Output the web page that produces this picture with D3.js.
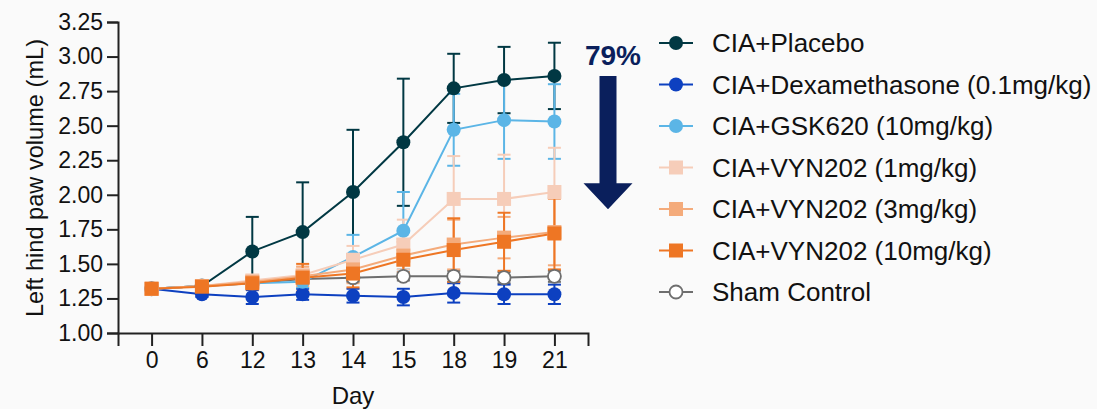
<!DOCTYPE html>
<html>
<head>
<meta charset="utf-8">
<script src="https://cdnjs.cloudflare.com/ajax/libs/d3/7.8.5/d3.min.js"></script>
<style>
  body { margin: 0; background: #fafafa; }
  svg { display: block; font-family: "Liberation Sans", Arial, sans-serif; }
</style>
</head>
<body>
<div id="chart"></div>
<script>
// Data
var days = ['0', '6', '12', '13', '14', '15', '18', '19', '21'];
var y_ticks = [1.00, 1.25, 1.50, 1.75, 2.00, 2.25, 2.50, 2.75, 3.00, 3.25];

var placebo = [1.32, 1.34, 1.59, 1.73, 2.02, 2.38, 2.77, 2.83, 2.86];
var placebo_err = [0.03, 0.03, 0.25, 0.36, 0.45, 0.46, 0.25, 0.24, 0.24];
var dexa = [1.32, 1.28, 1.26, 1.28, 1.27, 1.26, 1.29, 1.28, 1.28];
var dexa_err = [0.03, 0.02, 0.05, 0.04, 0.05, 0.06, 0.07, 0.07, 0.07];
var gsk = [1.32, 1.34, 1.36, 1.37, 1.55, 1.74, 2.47, 2.54, 2.53];
var gsk_err = [0.03, 0.02, 0.03, 0.04, 0.16, 0.28, 0.26, 0.28, 0.27];
var vyn1 = [1.32, 1.34, 1.38, 1.42, 1.53, 1.64, 1.97, 1.97, 2.02];
var vyn1_err = [0.03, 0.03, 0.04, 0.06, 0.10, 0.18, 0.31, 0.32, 0.32];
var vyn3 = [1.32, 1.34, 1.37, 1.41, 1.46, 1.56, 1.64, 1.69, 1.73];
var vyn3_err = [0.03, 0.03, 0.04, 0.07, 0.10, 0.12, 0.18, 0.15, 0.24];
var vyn10 = [1.32, 1.335, 1.36, 1.40, 1.43, 1.53, 1.60, 1.66, 1.72];
var vyn10_err = [0.03, 0.03, 0.04, 0.10, 0.10, 0.13, 0.23, 0.21, 0.26];
var sham = [1.32, 1.34, 1.36, 1.39, 1.40, 1.41, 1.41, 1.40, 1.41];
var sham_err = [0.03, 0.02, 0.03, 0.03, 0.03, 0.03, 0.04, 0.04, 0.04];

var reduction_label = '79%';

// series table (drawing order: sham at the back)
var series = [
    { name: 'Sham Control', values: sham, err: sham_err, color: '#6e6e6e', fill: '#ffffff', shape: 'circle', legend: 6 },
    { name: 'CIA+Placebo', values: placebo, err: placebo_err, color: '#013843', fill: '#013843', shape: 'circle', legend: 0 },
    { name: 'CIA+Dexamethasone (0.1mg/kg)', values: dexa, err: dexa_err, color: '#0d40c0', fill: '#0d40c0', shape: 'circle', legend: 1 },
    { name: 'CIA+GSK620 (10mg/kg)', values: gsk, err: gsk_err, color: '#5bb5e6', fill: '#5bb5e6', shape: 'circle', legend: 2 },
    { name: 'CIA+VYN202 (1mg/kg)', values: vyn1, err: vyn1_err, color: '#f6cdb9', fill: '#f6cdb9', shape: 'square', legend: 3 },
    { name: 'CIA+VYN202 (3mg/kg)', values: vyn3, err: vyn3_err, color: '#f4ab7b', fill: '#f4ab7b', shape: 'square', legend: 4 },
    { name: 'CIA+VYN202 (10mg/kg)', values: vyn10, err: vyn10_err, color: '#ee7624', fill: '#ee7624', shape: 'square', legend: 5 }
];

// SVG Element
var chart_width = 1097;
var chart_height = 409;
var svg = d3.select('#chart')
    .append('svg')
    .attr('width', chart_width)
    .attr('height', chart_height);

var x_scale = d3.scalePoint()
    .domain(days)
    .range([118, 588])
    .padding(0.667);

var y_scale = d3.scaleLinear()
    .domain([1, 3.25])
    .range([333, 22]);

// Axes
svg.append('g')
    .attr('transform', 'translate(0,333)')
    .call(d3.axisBottom(x_scale).tickSize(13).tickPadding(6));

svg.append('g')
    .attr('transform', 'translate(118,0)')
    .call(d3.axisLeft(y_scale).tickValues(y_ticks).tickFormat(d3.format('.2f')).tickSize(11).tickPadding(4));

svg.selectAll('.domain, .tick line')
    .attr('stroke', '#222')
    .attr('stroke-width', 2);
svg.selectAll('.tick text')
    .attr('font-size', 23)
    .attr('fill', '#111');

// Axis titles
svg.append('text')
    .attr('x', 353)
    .attr('y', 404)
    .attr('text-anchor', 'middle')
    .attr('font-size', 24)
    .attr('fill', '#111')
    .text('Day');

svg.append('text')
    .attr('transform', 'translate(43,178) rotate(-90)')
    .attr('text-anchor', 'middle')
    .attr('font-size', 23.6)
    .attr('fill', '#111')
    .text('Left hind paw volume (mL)');

var line = d3.line()
    .x(function (d, i) { return x_scale(days[i]); })
    .y(function (d) { return y_scale(d); });

// Error bars
var cap = 6.5;
series.forEach(function (s) {
    var g = svg.append('g').attr('stroke', s.color).attr('stroke-width', 2);
    s.values.forEach(function (v, i) {
        var x = x_scale(days[i]);
        var y0 = y_scale(v - s.err[i]);
        var y1 = y_scale(v + s.err[i]);
        g.append('line').attr('x1', x).attr('x2', x).attr('y1', y0).attr('y2', y1);
        g.append('line').attr('x1', x - cap).attr('x2', x + cap).attr('y1', y0).attr('y2', y0);
        g.append('line').attr('x1', x - cap).attr('x2', x + cap).attr('y1', y1).attr('y2', y1);
    });
});

// Lines
series.forEach(function (s) {
    svg.append('path')
        .datum(s.values)
        .attr('d', line)
        .attr('fill', 'none')
        .attr('stroke', s.color)
        .attr('stroke-width', 2);
});

function drawMarker(g, s, x, y) {
    if (s.shape === 'circle') {
        g.append('circle')
            .attr('cx', x)
            .attr('cy', y)
            .attr('r', s.fill === '#ffffff' ? 6.5 : 7)
            .attr('fill', s.fill)
            .attr('stroke', s.color)
            .attr('stroke-width', s.fill === '#ffffff' ? 1.8 : 0);
    } else {
        g.append('rect')
            .attr('x', x - 7)
            .attr('y', y - 7)
            .attr('width', 14)
            .attr('height', 14)
            .attr('fill', s.fill);
    }
}

// Markers
series.forEach(function (s) {
    var g = svg.append('g');
    s.values.forEach(function (v, i) {
        drawMarker(g, s, x_scale(days[i]), y_scale(v));
    });
});

// Reduction arrow
var arrow_color = '#0a1f5c';
var ax = 608;
var a_top = y_scale(placebo[placebo.length - 1]);
var a_tip = y_scale(1.895);
svg.append('path')
    .attr('d', 'M' + (ax - 8.5) + ',' + a_top +
        'V' + (a_tip - 26) + 'H' + (ax - 24.5) + 'L' + ax + ',' + a_tip +
        'L' + (ax + 24.5) + ',' + (a_tip - 26) + 'H' + (ax + 8.5) + 'V' + a_top + 'Z')
    .attr('fill', arrow_color);

svg.append('text')
    .attr('x', 613)
    .attr('y', 65)
    .attr('text-anchor', 'middle')
    .attr('font-size', 28)
    .attr('font-weight', 'bold')
    .attr('fill', arrow_color)
    .text(reduction_label);

// Legend
var legend = svg.selectAll('.legend')
    .data(series)
    .enter()
    .append('g')
    .attr('class', 'legend')
    .attr('transform', function (d) { return 'translate(676,' + (43 + d.legend * 41.5) + ')'; });

legend.append('line')
    .attr('x1', -17)
    .attr('x2', 17)
    .attr('stroke', function (d) { return d.color; })
    .attr('stroke-width', 2);

legend.each(function (d) {
    drawMarker(d3.select(this), d, 0, 0);
});

legend.append('text')
    .attr('x', 36)
    .attr('y', 9)
    .attr('font-size', 26)
    .attr('fill', '#111')
    .text(function (d) { return d.name; });
</script>
</body>
</html>
